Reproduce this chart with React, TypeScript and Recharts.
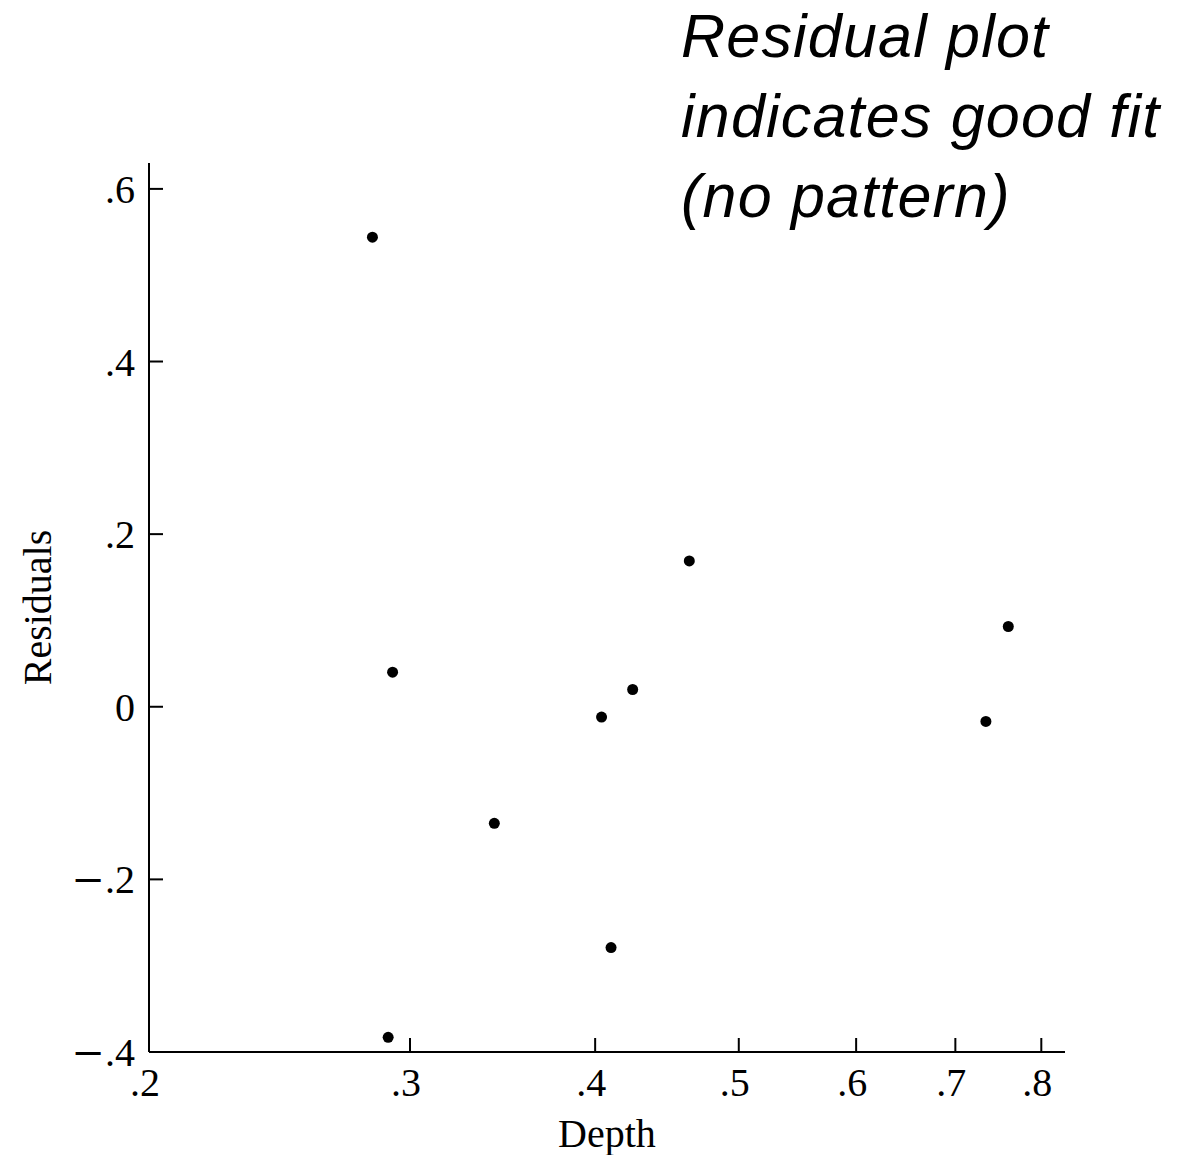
import { ScatterChart, Scatter, XAxis, YAxis } from 'recharts';

// depth (x) and residual (y)
const depths = [0.283, 0.292, 0.290, 0.342, 0.404, 0.410, 0.424, 0.463, 0.734, 0.760];
const residuals = [0.544, 0.040, -0.383, -0.135, -0.012, -0.279, 0.020, 0.169, -0.017, 0.093];

const xTicks = [0.2, 0.3, 0.4, 0.5, 0.6, 0.7, 0.8];
const yTicks = [-0.4, -0.2, 0, 0.2, 0.4, 0.6];

const titleLines = ['Residual plot', 'indicates good fit', '(no pattern)'];

const points = depths.map((d, i) => ({ depth: d, residual: residuals[i] }));

const SERIF = '"Liberation Serif", "Times New Roman", serif';

const fmt = (v: number) => {
  if (v === 0) return '0';
  return Math.abs(v).toFixed(1).replace(/^0/, '');
};

const XTick = ({ x, y, payload }: any) => (
  <g>
    <line x1={x} y1={y} x2={x} y2={y - 14} stroke="#000" strokeWidth={2} />
    <text x={x - 4} y={y + 44} textAnchor="middle" fontSize={40} fontFamily={SERIF} fill="#000">
      {fmt(payload.value)}
    </text>
  </g>
);

// minus sign drawn with DejaVu so it is as wide as the one in the reference
const YTick = ({ x, y, payload }: any) => (
  <g>
    <line x1={x} y1={y} x2={x + 14} y2={y} stroke="#000" strokeWidth={2} />
    <text x={x - 14} y={y + 14} textAnchor="end" fontSize={40} fontFamily={SERIF} fill="#000">
      {payload.value < 0 && <tspan fontFamily='"DejaVu Serif"' fontWeight={300}>{'\u2212'}</tspan>}
      <tspan>{fmt(payload.value)}</tspan>
    </text>
  </g>
);

const Dot = (props: any) => <circle cx={props.cx} cy={props.cy} r={5.5} fill="#000" />;

export default function App() {
  return (
    <div style={{ position: 'absolute', left: 0, top: 0, width: 1198, height: 1155, background: '#fff' }}>
      <ScatterChart width={1198} height={1155} margin={{ top: 163, right: 133, bottom: 43, left: 69 }}>
        <XAxis
          type="number"
          dataKey="depth"
          scale="log"
          domain={[0.2, 0.83]}
          ticks={xTicks}
          allowDataOverflow
          height={60}
          tickSize={0}
          tickMargin={0}
          tickLine={false}
          axisLine={{ stroke: '#000', strokeWidth: 2 }}
          tick={<XTick />}
          interval={0}
          label={{
            content: ({ viewBox }: any) => (
              <text
                x={viewBox.x + viewBox.width / 2}
                y={viewBox.y + 95}
                textAnchor="middle"
                fontSize={40}
                fontFamily={SERIF}
                fill="#000"
              >
                Depth
              </text>
            ),
          }}
        />
        <YAxis
          type="number"
          dataKey="residual"
          domain={[-0.4, 0.63]}
          ticks={yTicks}
          allowDataOverflow
          width={80}
          tickSize={0}
          tickMargin={0}
          tickLine={false}
          axisLine={{ stroke: '#000', strokeWidth: 2 }}
          tick={<YTick />}
          interval={0}
          label={{
            content: ({ viewBox }: any) => {
              const cx = viewBox.x - 18;
              const cy = viewBox.y + viewBox.height / 2;
              return (
                <text
                  x={cx}
                  y={cy}
                  transform={`rotate(-90 ${cx} ${cy})`}
                  textAnchor="middle"
                  fontSize={40}
                  fontFamily={SERIF}
                  fill="#000"
                >
                  Residuals
                </text>
              );
            },
          }}
        />
        <Scatter data={points} shape={<Dot />} isAnimationActive={false} />
      </ScatterChart>
      <div
        style={{
          position: 'absolute',
          left: 681,
          top: -4,
          fontFamily: '"Liberation Sans", Arial, sans-serif',
          fontStyle: 'italic',
          fontSize: 61,
          letterSpacing: 1.2,
          lineHeight: '80px',
          color: '#000',
          whiteSpace: 'nowrap',
        }}
      >
        {titleLines.map((t) => (
          <div key={t}>{t}</div>
        ))}
      </div>
    </div>
  );
}
